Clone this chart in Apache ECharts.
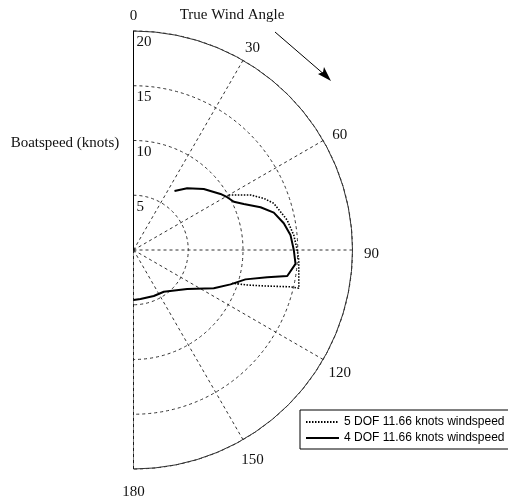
<!DOCTYPE html>
<html>
<head>
<meta charset="utf-8">
<script src="https://cdn.jsdelivr.net/npm/echarts@6/dist/echarts.min.js"></script>
<style>
  html, body { margin: 0; padding: 0; background: #fff; }
  #chart { width: 508px; height: 502px; }
</style>
</head>
<body>
<div id="chart"></div>
<script>
// True wind angle (degrees) and boatspeed (knots) for each model
const angles5dof = [60.0, 64.8, 68.4, 71.6, 79.0, 84.7, 90, 93.5, 100.3, 103.0, 103.2, 105.4, 107.1, 108.6];
const speeds5dof = [10.05, 11.81, 12.80, 13.50, 14.30, 14.70, 14.95, 15.12, 15.34, 15.50, 14.72, 12.35, 10.86, 9.51];

const angles4dof = [34.8, 41.0, 49.0, 57.2, 60.6, 64.3, 67.4, 71.4, 75.1, 79.9, 84.5, 90, 94.9, 99.6, 101.5, 104.7, 109.5, 115.5, 126.0, 144.0, 156.2, 171.9, 180];
const speeds4dof = [6.56, 7.47, 8.50, 9.45, 9.82, 10.17, 10.91, 12.24, 13.26, 13.94, 14.40, 14.64, 14.85, 14.24, 12.46, 10.57, 9.40, 8.12, 6.06, 4.71, 4.59, 4.52, 4.57];

const seriesNames = ['5 DOF 11.66 knots windspeed', '4 DOF 11.66 knots windspeed'];
const angleTicks = [0, 30, 60, 90, 120, 150, 180];
const speedTicks = [0, 5, 10, 15, 20];

const serif = '"Liberation Serif", "Times New Roman", serif';
const sans = '"Liberation Sans", Arial, sans-serif';

const toPolar = (speeds, angles) => speeds.map((s, i) => [s, angles[i]]);
const speedMax = speedTicks[speedTicks.length - 1];
// angle labels sit just outside the outer ring
const angleLabelRadius = speedMax * 1.087;

const chart = echarts.init(document.getElementById('chart'), null, { renderer: 'canvas' });

chart.setOption({
  animation: false,
  backgroundColor: '#fff',
  polar: { center: [133.5, 250], radius: 219 },
  angleAxis: {
    type: 'value',
    startAngle: 90,
    endAngle: -90,
    clockwise: true,
    min: angleTicks[0],
    max: angleTicks[angleTicks.length - 1],
    interval: 30,
    axisLine: { show: true, lineStyle: { color: '#333', width: 1 } },
    axisTick: { show: false },
    axisLabel: { show: false },
    splitLine: { show: true, lineStyle: { color: '#333', width: 1, type: [3, 3] } }
  },
  radiusAxis: {
    type: 'value',
    min: speedTicks[0],
    max: speedMax,
    interval: 5,
    axisLine: { show: true, lineStyle: { color: '#000', width: 1 } },
    axisTick: { show: false },
    axisLabel: {
      show: true, showMinLabel: false, color: '#111',
      fontFamily: serif, fontSize: 15,
      margin: -3, align: 'left', verticalAlign: 'top',
      padding: [4, 0, 0, 0]
    },
    splitLine: { show: true, lineStyle: { color: '#333', width: 1, type: [3, 3] } }
  },
  legend: {
    orient: 'vertical',
    left: 300,
    top: 410,
    width: 200,
    padding: [6, 6, 5, 5],
    itemGap: 4,
    itemWidth: 33,
    itemHeight: 12,
    borderColor: '#000',
    borderWidth: 1,
    borderRadius: 0,
    backgroundColor: '#fff',
    itemStyle: { color: 'transparent', borderColor: 'transparent', borderWidth: 0, opacity: 0 },
    textStyle: { fontFamily: sans, fontSize: 12, color: '#000' },
    data: seriesNames
  },
  graphic: [
    { type: 'text', x: 232, y: 15, style: { text: 'True Wind Angle', font: '15px ' + serif, fill: '#111', align: 'center', verticalAlign: 'middle' } },
    { type: 'text', x: 65, y: 143, style: { text: 'Boatspeed (knots)', font: '15px ' + serif, fill: '#111', align: 'center', verticalAlign: 'middle' } },
    { type: 'line', shape: { x1: 275, y1: 32, x2: 326, y2: 76 }, style: { stroke: '#000', lineWidth: 1 } },
    { type: 'polygon', shape: { points: [[331, 81], [318, 74], [323, 72], [324, 67]] }, style: { fill: '#000' } }
  ],
  series: [
    {
      name: 'axis-diameter', type: 'line', coordinateSystem: 'polar',
      data: [[speedMax, angleTicks[0]], [speedMax, angleTicks[angleTicks.length - 1]]],
      symbol: 'none', silent: true, lineStyle: { color: '#000', width: 1 }, z: 3
    },
    {
      name: 'angle-labels', type: 'scatter', coordinateSystem: 'polar',
      data: angleTicks.map(a => [angleLabelRadius, a]),
      symbolSize: 0, silent: true, clip: false,
      itemStyle: { opacity: 1 },
      label: {
        show: true, position: 'inside', offset: [0, 4],
        formatter: p => String(p.value[1]),
        fontFamily: serif, fontSize: 15, color: '#111',
        textBorderWidth: 0, opacity: 1
      }
    },
    {
      name: seriesNames[0], type: 'line', coordinateSystem: 'polar',
      data: toPolar(speeds5dof, angles5dof),
      symbol: 'none', color: '#000',
      lineStyle: { color: '#000', width: 1.6, type: [1.5, 1.5] }, z: 4
    },
    {
      name: seriesNames[1], type: 'line', coordinateSystem: 'polar',
      data: toPolar(speeds4dof, angles4dof),
      symbol: 'none', color: '#000',
      lineStyle: { color: '#000', width: 2 }, z: 5
    }
  ]
});
</script>
</body>
</html>
